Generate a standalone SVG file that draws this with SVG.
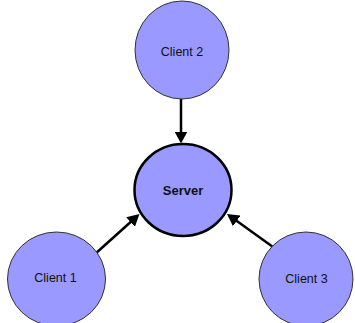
<svg xmlns="http://www.w3.org/2000/svg" width="355" height="323" viewBox="0 0 355 323">
<style>
.client{fill:#9999ff;stroke:#333;stroke-width:1}
.server{fill:#9999ff;stroke:#000;stroke-width:2.5}
.lbl{font-family:"Liberation Sans",Arial,sans-serif;font-size:12.5px;fill:#111;text-anchor:middle}
.bold{font-weight:bold;font-size:13px}
.conn{stroke:#000;stroke-width:2.5;fill:none}
</style>
<defs>
<marker id="arrow" markerUnits="userSpaceOnUse" markerWidth="12" markerHeight="13" viewBox="0 0 12 13" refX="8" refY="6.5" orient="auto">
<path d="M0,0 L12,6.5 L0,13 z" fill="#000"/>
</marker>
</defs>
<rect width="355" height="323" fill="#fff"/>
<g id="connectors">
<line class="conn" x1="181" y1="99" x2="181" y2="139.5" marker-end="url(#arrow)"/>
<line class="conn" x1="95" y1="254" x2="136.5" y2="216.7" marker-end="url(#arrow)"/>
<line class="conn" x1="273" y1="247" x2="230.25" y2="216.3" marker-end="url(#arrow)"/>
</g>
<g id="client2">
<ellipse class="client" cx="182" cy="50" rx="47" ry="49"/>
<text class="lbl" x="182" y="56">Client 2</text>
</g>
<g id="server">
<ellipse class="server" cx="183" cy="190" rx="48.5" ry="46"/>
<text class="lbl bold" x="183" y="195">Server</text>
</g>
<g id="client1">
<ellipse class="client" cx="56.5" cy="279" rx="49" ry="47"/>
<text class="lbl" x="55.5" y="282">Client 1</text>
</g>
<g id="client3">
<ellipse class="client" cx="306" cy="279" rx="47" ry="47"/>
<text class="lbl" x="306.5" y="283">Client 3</text>
</g>
</svg>
